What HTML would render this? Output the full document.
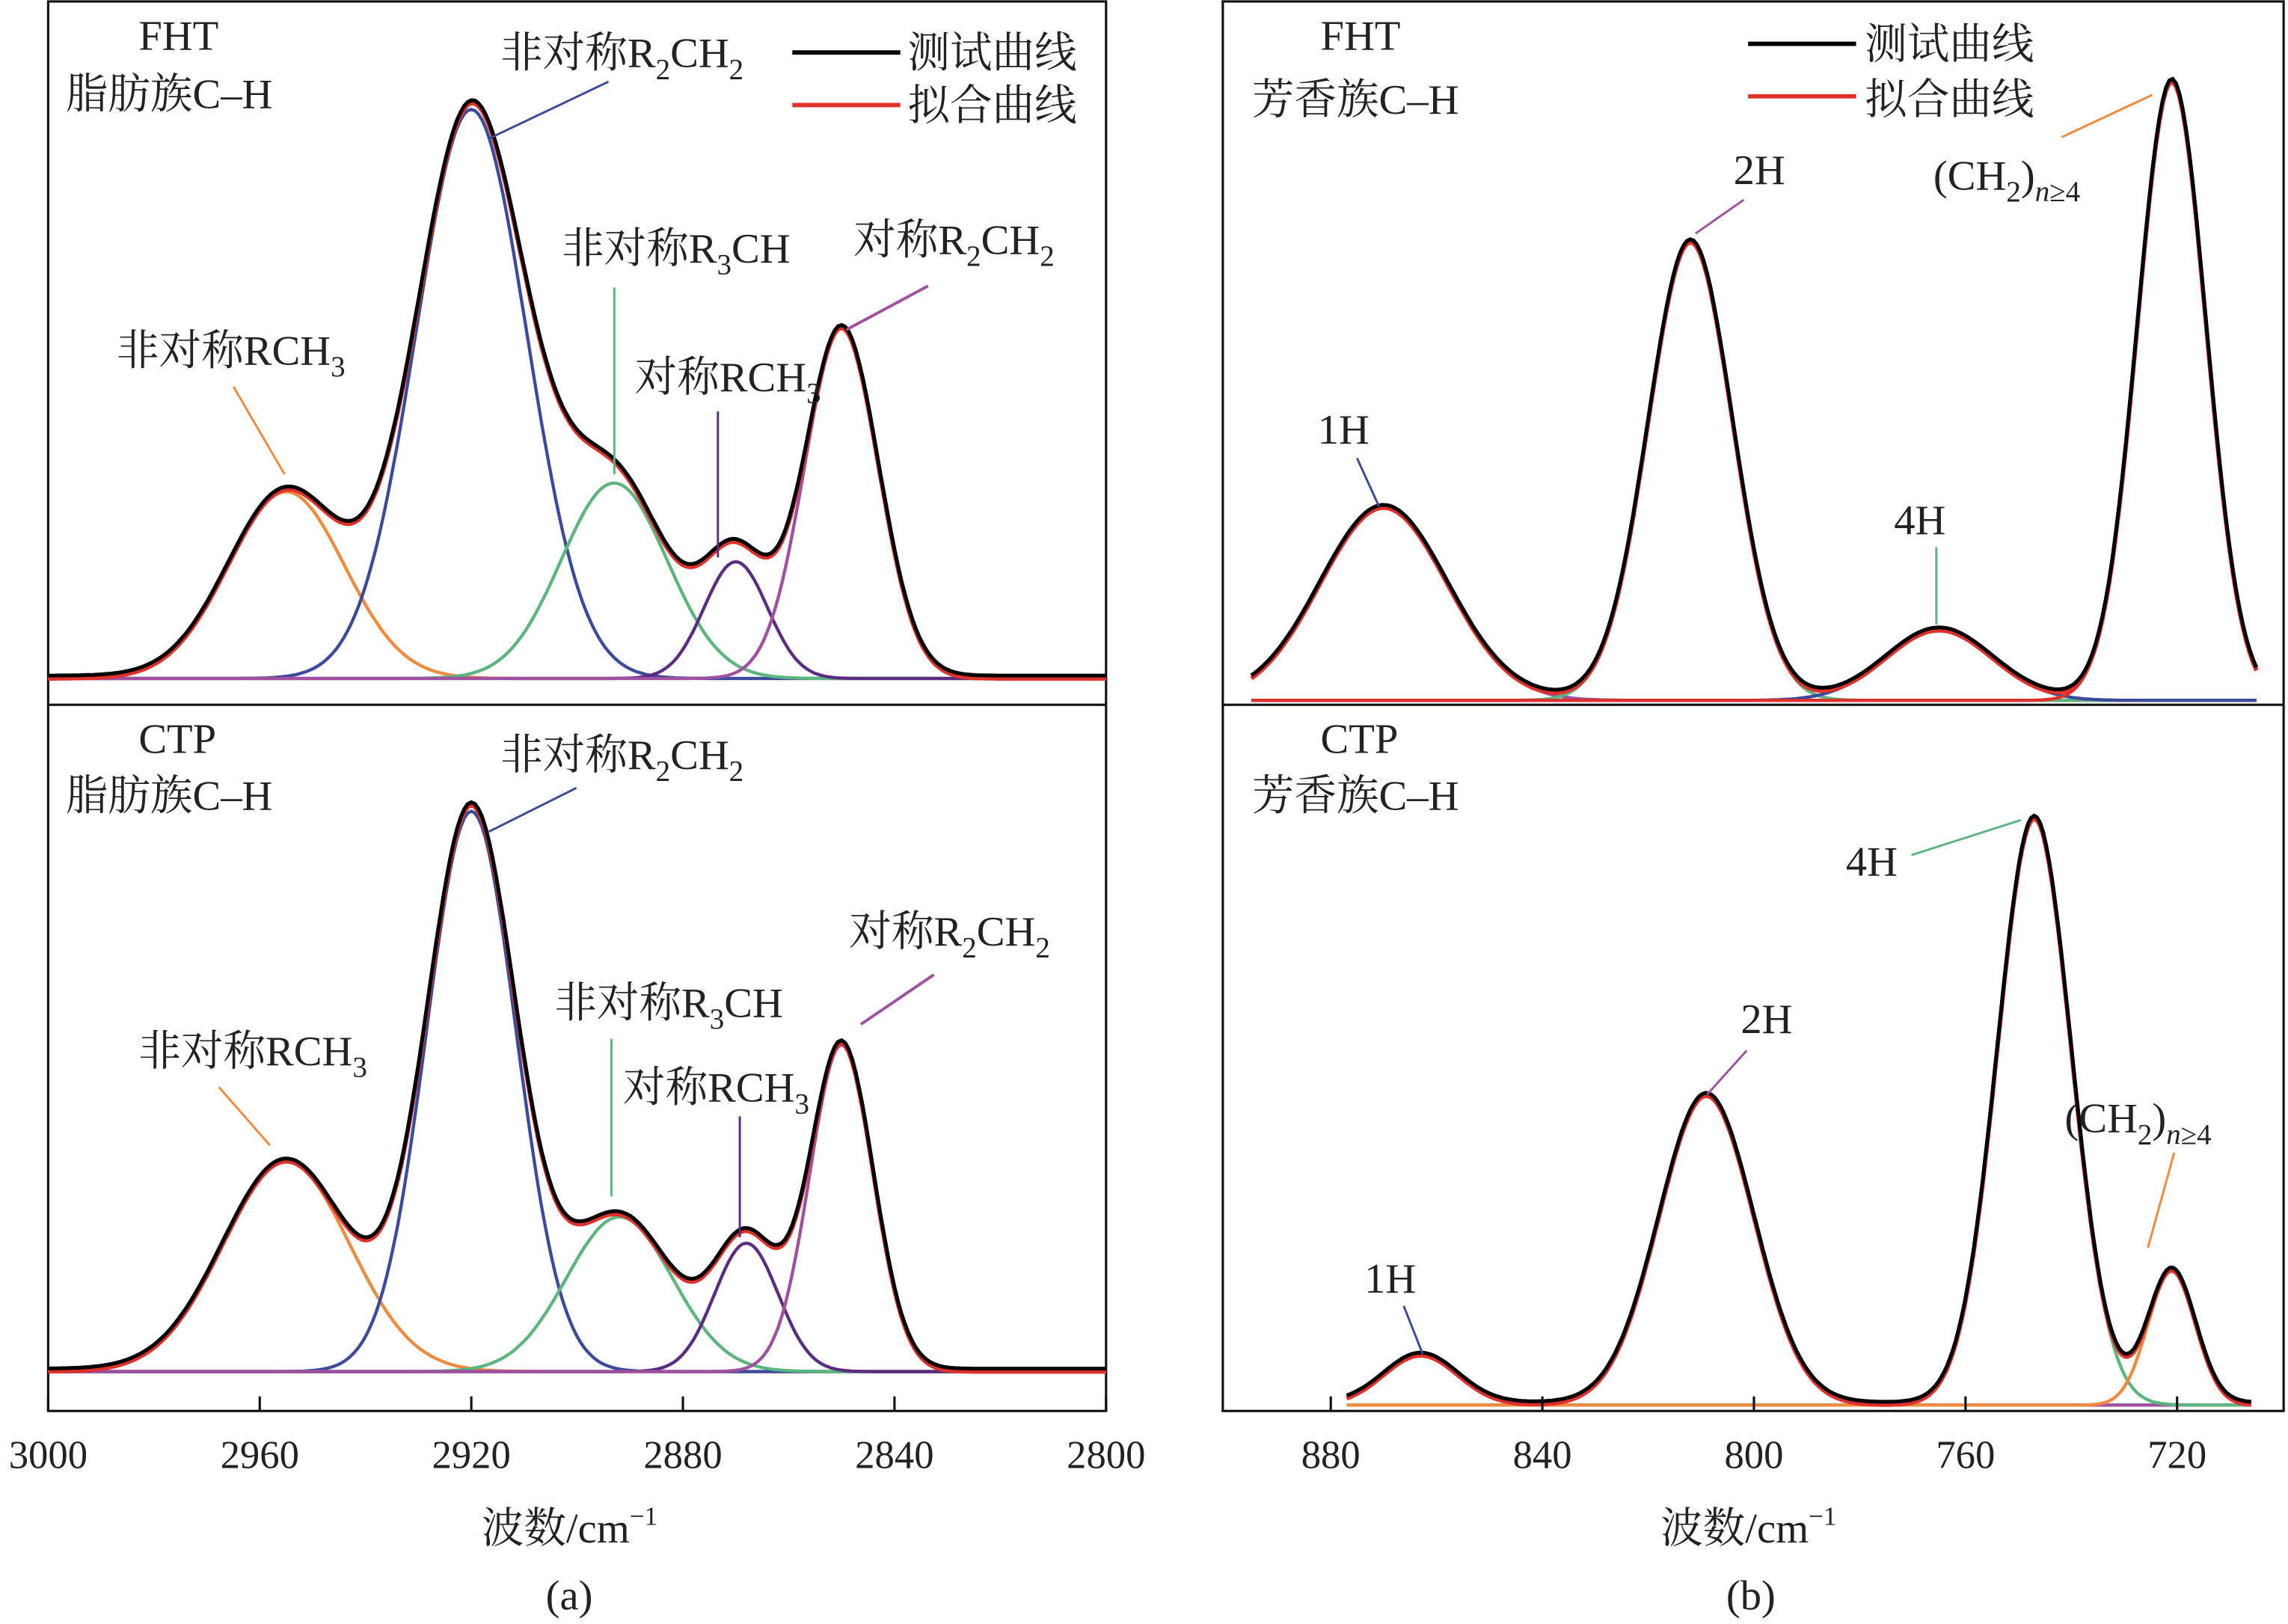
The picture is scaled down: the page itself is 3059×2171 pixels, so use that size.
<!DOCTYPE html>
<html><head><meta charset="utf-8"><style>
html,body{margin:0;padding:0;background:#fff}
svg{display:block}
text{font-family:"Liberation Serif","Noto Serif CJK SC",serif;fill:#222}
</style></head><body>
<svg id="chart" width="3059" height="2171" viewBox="0 0 1568 1113" preserveAspectRatio="none" xmlns="http://www.w3.org/2000/svg">
<g id="frames" fill="none" stroke="#111" stroke-width="1.6">
<rect x="33" y="1" width="725" height="966"/>
<line x1="33" y1="483" x2="758" y2="483"/>
<rect x="838" y="1" width="727" height="966"/>
<line x1="838" y1="483" x2="1565" y2="483"/>
</g>
<g id="plots"></g>
<g id="labels" font-size="29">
<text x="95" y="34">FHT</text>
<text x="45" y="74">脂肪族C–H</text>
<text x="95" y="516">CTP</text>
<text x="45" y="555">脂肪族C–H</text>
<text x="905" y="34">FHT</text>
<text x="858" y="78">芳香族C–H</text>
<text x="905" y="516">CTP</text>
<text x="858" y="555">芳香族C–H</text>
<line x1="543" y1="36" x2="617" y2="36" stroke="#000" stroke-width="3"/>
<text x="622" y="46">测试曲线</text>
<line x1="543" y1="72" x2="617" y2="72" stroke="#e0302a" stroke-width="3"/>
<text x="622" y="82">拟合曲线</text>
<line x1="1198" y1="30" x2="1272" y2="30" stroke="#000" stroke-width="3"/>
<text x="1278" y="40">测试曲线</text>
<line x1="1198" y1="66" x2="1272" y2="66" stroke="#e0302a" stroke-width="3"/>
<text x="1278" y="78">拟合曲线</text>
<text x="80" y="250">非对称RCH<tspan font-size="20" dy="8">3</tspan></text>
<line x1="160" y1="265" x2="195" y2="325" stroke="#f08a3c" stroke-width="1.5"/>
<text x="343" y="46">非对称R<tspan font-size="20" dy="8">2</tspan><tspan dy="-8">CH</tspan><tspan font-size="20" dy="8">2</tspan></text>
<line x1="417" y1="56" x2="335" y2="95" stroke="#3b4a9c" stroke-width="1.5"/>
<text x="385" y="180">非对称R<tspan font-size="20" dy="8">3</tspan><tspan dy="-8">CH</tspan></text>
<line x1="421" y1="197" x2="421" y2="325" stroke="#5bb67e" stroke-width="1.5"/>
<text x="435" y="268">对称RCH<tspan font-size="20" dy="8">3</tspan></text>
<line x1="492" y1="282" x2="492" y2="382" stroke="#5a2d82" stroke-width="1.5"/>
<text x="585" y="174">对称R<tspan font-size="20" dy="8">2</tspan><tspan dy="-8">CH</tspan><tspan font-size="20" dy="8">2</tspan></text>
<line x1="636" y1="196" x2="580" y2="226" stroke="#a050a0" stroke-width="2"/>
<text x="95" y="730">非对称RCH<tspan font-size="20" dy="8">3</tspan></text>
<line x1="150" y1="745" x2="185" y2="785" stroke="#f08a3c" stroke-width="1.5"/>
<text x="343" y="527">非对称R<tspan font-size="20" dy="8">2</tspan><tspan dy="-8">CH</tspan><tspan font-size="20" dy="8">2</tspan></text>
<line x1="395" y1="540" x2="335" y2="570" stroke="#3b4a9c" stroke-width="1.5"/>
<text x="380" y="697">非对称R<tspan font-size="20" dy="8">3</tspan><tspan dy="-8">CH</tspan></text>
<line x1="419" y1="712" x2="419" y2="820" stroke="#5bb67e" stroke-width="1.5"/>
<text x="427" y="755">对称RCH<tspan font-size="20" dy="8">3</tspan></text>
<line x1="507" y1="765" x2="507" y2="848" stroke="#5a2d82" stroke-width="1.5"/>
<text x="582" y="648">对称R<tspan font-size="20" dy="8">2</tspan><tspan dy="-8">CH</tspan><tspan font-size="20" dy="8">2</tspan></text>
<line x1="640" y1="668" x2="590" y2="702" stroke="#a050a0" stroke-width="2"/>
<text x="903" y="304">1H</text>
<line x1="930" y1="314" x2="945" y2="347" stroke="#3b4a9c" stroke-width="1.5"/>
<text x="1188" y="126">2H</text>
<line x1="1195" y1="137" x2="1162" y2="160" stroke="#a050a0" stroke-width="1.5"/>
<text x="1298" y="366">4H</text>
<line x1="1327" y1="375" x2="1327" y2="428" stroke="#5bb67e" stroke-width="1.5"/>
<text x="1325" y="130">(CH<tspan font-size="20" dy="8">2</tspan><tspan dy="-8">)</tspan><tspan font-size="20" font-style="italic" dy="8">n</tspan><tspan font-size="20" dy="0">≥4</tspan></text>
<line x1="1413" y1="94" x2="1475" y2="65" stroke="#f08a3c" stroke-width="1.5"/>
<text x="935" y="886">1H</text>
<line x1="962" y1="895" x2="975" y2="928" stroke="#3b4a9c" stroke-width="1.5"/>
<text x="1193" y="708">2H</text>
<line x1="1197" y1="720" x2="1170" y2="750" stroke="#a050a0" stroke-width="1.5"/>
<text x="1265" y="600">4H</text>
<line x1="1310" y1="586" x2="1385" y2="562" stroke="#5bb67e" stroke-width="1.5"/>
<text x="1415" y="776">(CH<tspan font-size="20" dy="8">2</tspan><tspan dy="-8">)</tspan><tspan font-size="20" font-style="italic" dy="8">n</tspan><tspan font-size="20" dy="0">≥4</tspan></text>
<line x1="1490" y1="790" x2="1472" y2="855" stroke="#f08a3c" stroke-width="1.5"/>
<text x="330" y="1057">波数/cm<tspan font-size="18" dy="-12">−1</tspan></text>
<text x="1138" y="1057">波数/cm<tspan font-size="18" dy="-12">−1</tspan></text>
<text x="374" y="1103">(a)</text>
<text x="1183" y="1103">(b)</text>
</g>
<g id="ticks"></g>
</svg>
<script>
const ticksA = [3000, 2960, 2920, 2880, 2840, 2800];
const ticksB = [880, 840, 800, 760, 720];
const aTopCenters = [2955, 2920, 2893, 2870, 2850];
const aTopHeights = [32, 97.5, 33.5, 20, 60];
const aTopWidths = [11, 10.5, 10, 6, 7];
const aBotCenters = [2955, 2920, 2892, 2868, 2850];
const aBotHeights = [36, 96, 26.5, 22, 56];
const aBotWidths = [12, 8.5, 10, 6, 6];
const bTopCenters = [870, 812, 765, 721];
const bTopHeights = [33, 78.5, 12, 106];
const bTopWidths = [12, 8, 10, 6.5];
const bBotCenters = [863, 809, 747, 721];
const bBotHeights = [8.5, 53, 100.5, 23];
const bBotWidths = [7, 9, 7, 4.5];
const aColors = ['#f08a3c', '#3b4a9c', '#5bb67e', '#5a2d82', '#a050a0'];
const bTopColors = ['#a050a0', '#5bb67e', '#3b4a9c', '#e0302a'];
const bBotColors = ['#3b4a9c', '#a050a0', '#5bb67e', '#f08a3c'];

const NS = 'http://www.w3.org/2000/svg';
const plots = document.getElementById('plots');
const ticksG = document.getElementById('ticks');
const xA = v => 33 + (3000 - v) / 200 * 725;
const xB = v => 912 + (880 - v) * 3.625;
const gauss = (v, c, h, s) => h * Math.exp(-0.5 * ((v - c) / s) ** 2);

function drawPanel(name, xf, vFrom, vTo, base, scale, C, H, W, colors) {
  const yf = a => base - a * scale;
  const n = 300;
  for (let k = 0; k < C.length; k++) {
    let d = '';
    for (let i = 0; i <= n; i++) {
      const v = vFrom + (vTo - vFrom) * i / n;
      d += (i ? 'L' : 'M') + xf(v).toFixed(1) + ',' + yf(gauss(v, C[k], H[k], W[k])).toFixed(1);
    }
    const p = document.createElementNS(NS, 'path');
    p.setAttribute('d', d); p.setAttribute('fill', 'none');
    p.setAttribute('stroke', colors[k]); p.setAttribute('stroke-width', '2.2');
    
    
    plots.appendChild(p);
  }
  let dr = '', db = '';
  for (let i = 0; i <= n; i++) {
    const v = vFrom + (vTo - vFrom) * i / n;
    let s = 0;
    for (let k = 0; k < C.length; k++) s += gauss(v, C[k], H[k], W[k]);
    dr += (i ? 'L' : 'M') + xf(v).toFixed(1) + ',' + yf(s).toFixed(1);
    db += (i ? 'L' : 'M') + xf(v).toFixed(1) + ',' + (yf(s) - 2).toFixed(1);
  }
  const r = document.createElementNS(NS, 'path');
  r.setAttribute('d', dr); r.setAttribute('fill', 'none');
  r.setAttribute('stroke', '#e0302a'); r.setAttribute('stroke-width', '3');
  
  
  plots.appendChild(r);
  const b = document.createElementNS(NS, 'path');
  b.setAttribute('d', db); b.setAttribute('fill', 'none');
  b.setAttribute('stroke', '#000'); b.setAttribute('stroke-width', '2.6');
  
  
  plots.appendChild(b);
}
drawPanel('a-top', xA, 3000, 2800, 465, 4, aTopCenters, aTopHeights, aTopWidths, aColors);
drawPanel('a-bottom', xA, 3000, 2800, 940, 4, aBotCenters, aBotHeights, aBotWidths, aColors);
drawPanel('b-top', xB, 895, 705, 480, 4, bTopCenters, bTopHeights, bTopWidths, bTopColors);
drawPanel('b-bottom', xB, 877, 706, 963, 4, bBotCenters, bBotHeights, bBotWidths, bBotColors);

function drawTicks(ticks, xf, name) {
  ticks.forEach(t => {
    const l = document.createElementNS(NS, 'line');
    l.setAttribute('x1', xf(t)); l.setAttribute('x2', xf(t));
    l.setAttribute('y1', 967); l.setAttribute('y2', 957);
    l.setAttribute('stroke', '#111'); l.setAttribute('stroke-width', '1.6');
    
    
    ticksG.appendChild(l);
    const tx = document.createElementNS(NS, 'text');
    tx.setAttribute('x', xf(t)); tx.setAttribute('y', 1006);
    tx.setAttribute('text-anchor', 'middle'); tx.setAttribute('font-size', '27');
    tx.textContent = t;
    
    
    ticksG.appendChild(tx);
  });
}
drawTicks(ticksA, xA, 'x-axis-a');
drawTicks(ticksB, xB, 'x-axis-b');
</script>
</body></html>
